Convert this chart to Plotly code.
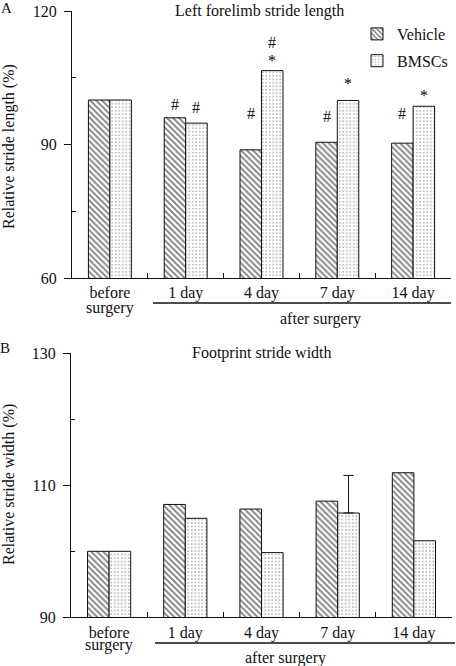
import plotly.graph_objects as go

# ---------------- data ----------------
categories = ["before", "1 day", "4 day", "7 day", "14 day"]
series_names = ["Vehicle", "BMSCs"]

# Panel A: Left forelimb stride length (%)
length_vehicle = [100.0, 96.0, 88.8, 90.5, 90.3]
length_bmsc = [100.0, 94.8, 106.6, 99.9, 98.6]
# significance marks (y positions in data units, None = no mark)
length_vehicle_hash_y = [None, 98.9, 96.9, 96.4, 96.9]
length_bmsc_hash_y = [None, 98.4, 113.0, None, None]
length_bmsc_star_y = [None, None, 109.7, 104.5, 102.0]

# Panel B: Footprint stride width (%)
width_vehicle = [100.0, 107.1, 106.4, 107.6, 111.9]
width_bmsc = [100.0, 105.0, 99.8, 105.8, 101.6]
# only one error bar is shown in the original (BMSCs, 7 day)
err_category = ["7 day"]
err_bmsc_value = [105.8]
err_bmsc_plus = [5.7]

length_ticks = [60, 90, 120]
length_minor = [75, 105]
width_ticks = [90, 110, 130]
width_minor = [100, 120]

# ---------------- styling ----------------
W, H = 456, 666
FONT = "Liberation Serif"
INK = "#111"
BARGAP = 0.433


def px_x(p):
    return p / W


def px_y(p):
    return 1 - p / H


veh_pattern = dict(shape="\\", fgcolor="#000", bgcolor="white", size=4.2, solidity=0.45)
bms_pattern = dict(shape=".", fgcolor="#555", bgcolor="white", size=3.5, solidity=0.2)

fig = go.Figure()

# Panel A bars
fig.add_trace(go.Bar(x=categories, y=length_vehicle, name=series_names[0], offsetgroup="v",
                     marker=dict(color="white", pattern=veh_pattern, line=dict(color=INK, width=1)),
                     xaxis="x", yaxis="y", legendgroup="v"))
fig.add_trace(go.Bar(x=categories, y=length_bmsc, name=series_names[1], offsetgroup="b",
                     marker=dict(color="white", pattern=bms_pattern, line=dict(color=INK, width=1)),
                     xaxis="x", yaxis="y", legendgroup="b"))
# Panel B bars
fig.add_trace(go.Bar(x=categories, y=width_vehicle, name=series_names[0], showlegend=False,
                     offsetgroup="v",
                     marker=dict(color="white", pattern=veh_pattern, line=dict(color=INK, width=1)),
                     xaxis="x2", yaxis="y2"))
fig.add_trace(go.Bar(x=categories, y=width_bmsc, name=series_names[1], showlegend=False,
                     offsetgroup="b",
                     marker=dict(color="white", pattern=bms_pattern, line=dict(color=INK, width=1)),
                     xaxis="x2", yaxis="y2"))
# error bar only (transparent bar in the BMSCs slot)
fig.add_trace(go.Bar(x=err_category, y=err_bmsc_value, name=series_names[1], showlegend=False,
                     offsetgroup="b", hoverinfo="skip",
                     marker=dict(color="rgba(0,0,0,0)", line=dict(width=0)),
                     error_y=dict(type="data", symmetric=False, array=err_bmsc_plus,
                                  arrayminus=[0], color=INK, thickness=1, width=5),
                     xaxis="x2", yaxis="y2"))

annotations = []
bar_w = (1 - BARGAP) / 2
off = bar_w / 2
afont = dict(family=FONT, size=16, color=INK)


def ann(**kw):
    d = dict(showarrow=False, font=afont, xanchor="center", yanchor="middle")
    d.update(kw)
    annotations.append(d)


for i, yv in enumerate(length_vehicle_hash_y):
    if yv is not None:
        ann(x=i - off, y=yv, xref="x", yref="y", text="#")
for i, yv in enumerate(length_bmsc_hash_y):
    if yv is not None:
        ann(x=i + off, y=yv, xref="x", yref="y", text="#")
for i, yv in enumerate(length_bmsc_star_y):
    if yv is not None:
        ann(x=i + off, y=yv, xref="x", yref="y", text="*", yshift=-4,
            font=dict(family=FONT, size=16, color="#000"))

# second line of first category label
for xr, ypx in (("x", 308), ("x2", 645)):
    ann(x=0, y=px_y(ypx), xref=xr, yref="paper", text="surgery")

# "after surgery"
ann(x=px_x(320), y=px_y(319), xref="paper", yref="paper", text="after surgery")
ann(x=px_x(285), y=px_y(658), xref="paper", yref="paper", text="after surgery")

# titles
ann(x=px_x(259), y=px_y(11), xref="paper", yref="paper", text="Left forelimb stride length")
ann(x=px_x(262), y=px_y(353), xref="paper", yref="paper", text="Footprint stride width")

# y titles
ann(x=px_x(9), y=px_y(147), xref="paper", yref="paper", textangle=-90,
    text="Relative stride length (%)")
ann(x=px_x(9), y=px_y(485), xref="paper", yref="paper", textangle=-90,
    text="Relative stride width (%)")

# panel letters
ann(x=px_x(6), y=px_y(8), xref="paper", yref="paper", text="A",
    font=dict(family=FONT, size=15, color=INK))
ann(x=px_x(5), y=px_y(348), xref="paper", yref="paper", text="B",
    font=dict(family=FONT, size=15, color=INK))

shapes = [
    dict(type="line", xref="paper", yref="paper", x0=px_x(153), x1=px_x(451),
         y0=px_y(303), y1=px_y(303), line=dict(color=INK, width=1.6)),
    dict(type="line", xref="paper", yref="paper", x0=px_x(155), x1=px_x(455),
         y0=px_y(643), y1=px_y(643), line=dict(color=INK, width=1.6)),
]

tickfont = dict(family=FONT, size=16, color=INK)

xcommon = dict(type="category", tickson="boundaries", ticks="inside", ticklen=5, tickwidth=1,
               tickcolor=INK, showline=True, linecolor=INK, linewidth=1, showgrid=False,
               zeroline=False, tickfont=tickfont, range=[-0.5, 4.5], fixedrange=True,
               automargin=False)
ycommon = dict(ticks="outside", ticklen=7, tickwidth=1, tickcolor=INK, showline=True,
               linecolor=INK, linewidth=1, showgrid=False, zeroline=False, tickfont=tickfont,
               ticklabelstandoff=4, automargin=False)

fig.update_layout(
    width=W, height=H,
    margin=dict(l=0, r=0, t=0, b=0, autoexpand=False),
    paper_bgcolor="white", plot_bgcolor="white",
    font=dict(family=FONT, size=16, color=INK),
    barmode="group", bargap=BARGAP, bargroupgap=0,
    showlegend=True,
    legend=dict(x=px_x(357), y=px_y(17), xanchor="left", yanchor="top",
                font=dict(family=FONT, size=16, color=INK), bgcolor="rgba(0,0,0,0)",
                tracegroupgap=3, traceorder="grouped"),
    xaxis=dict(domain=[px_x(72), px_x(451)], anchor="y", **xcommon),
    yaxis=dict(domain=[px_y(278), px_y(11)], anchor="x", range=[60, 120], tickvals=length_ticks,
               minor=dict(tickvals=length_minor, ticks="inside", ticklen=4, tickcolor=INK),
               **ycommon),
    yaxis3=dict(overlaying="y", anchor="x", range=[60, 120], tickvals=length_ticks, ticks="inside",
                ticklen=4, tickcolor=INK, showticklabels=False, showline=False, showgrid=False,
                zeroline=False),
    xaxis2=dict(domain=[px_x(71), px_x(452)], anchor="y2", **xcommon),
    yaxis2=dict(domain=[px_y(617.3), px_y(353.3)], anchor="x2", range=[90, 130], tickvals=width_ticks,
                minor=dict(tickvals=width_minor, ticks="inside", ticklen=4, tickcolor=INK),
                **ycommon),
    yaxis4=dict(overlaying="y2", anchor="x2", range=[90, 130], tickvals=width_ticks, ticks="inside",
                ticklen=4, tickcolor=INK, showticklabels=False, showline=False, showgrid=False,
                zeroline=False),
    annotations=annotations,
    shapes=shapes,
)

fig.write_html("out.html", config={"displayModeBar": False},
               post_script="document.body.style.margin='0';")
